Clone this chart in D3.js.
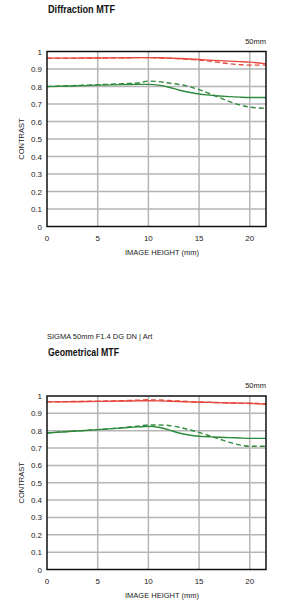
<!DOCTYPE html>
<html>
<head>
<meta charset="utf-8">
<script src="https://cdn.jsdelivr.net/npm/d3@7"></script>
<style>
  body { margin: 0; background: #fff; }
  text { font-family: "Liberation Sans", Arial, sans-serif; fill: #222; }
  .title { font-family: "Liberation Sans", Arial, sans-serif; fill: #111; }
</style>
</head>
<body>
<div id="plot"></div>
<script>
// image height positions (mm)
const heights = [0, 2.5, 5, 7.5, 9, 10, 11, 12, 13, 14, 15, 16, 17, 18, 19, 20, 21.6];

// diffraction MTF
const diffRedSolid   = [0.962, 0.962, 0.963, 0.964, 0.965, 0.965, 0.964, 0.962, 0.960, 0.957, 0.954, 0.951, 0.948, 0.945, 0.942, 0.939, 0.929];
const diffRedDashed  = [0.962, 0.962, 0.963, 0.964, 0.965, 0.965, 0.964, 0.962, 0.959, 0.955, 0.951, 0.945, 0.937, 0.930, 0.925, 0.922, 0.922];
const diffGreenSolid = [0.799, 0.803, 0.808, 0.811, 0.812, 0.812, 0.808, 0.796, 0.780, 0.767, 0.757, 0.751, 0.746, 0.742, 0.739, 0.737, 0.737];
const diffGreenDash  = [0.800, 0.805, 0.810, 0.816, 0.820, 0.831, 0.828, 0.820, 0.812, 0.800, 0.782, 0.760, 0.737, 0.714, 0.695, 0.682, 0.675];

// geometrical MTF
const geoRedSolid    = [0.966, 0.967, 0.969, 0.971, 0.972, 0.973, 0.972, 0.970, 0.968, 0.966, 0.964, 0.963, 0.962, 0.960, 0.959, 0.958, 0.952];
const geoRedDashed   = [0.966, 0.968, 0.970, 0.973, 0.976, 0.978, 0.977, 0.974, 0.971, 0.968, 0.966, 0.964, 0.962, 0.960, 0.958, 0.957, 0.956];
const geoGreenSolid  = [0.787, 0.797, 0.806, 0.816, 0.822, 0.825, 0.820, 0.805, 0.787, 0.775, 0.768, 0.765, 0.762, 0.760, 0.758, 0.756, 0.756];
const geoGreenDash   = [0.787, 0.797, 0.806, 0.818, 0.826, 0.833, 0.833, 0.830, 0.820, 0.806, 0.790, 0.771, 0.752, 0.733, 0.718, 0.710, 0.710];

const xTicks = [0, 5, 10, 15, 20];
const yTicks = [0, 0.1, 0.2, 0.3, 0.4, 0.5, 0.6, 0.7, 0.8, 0.9, 1];

const RED = "#e5483d";
const GREEN = "#2f8a3c";

const svg = d3.select("#plot")
    .append("svg")
    .attr("width", 286)
    .attr("height", 600);

function drawChart(top, bottom, series) {
  const left = 47, right = 266;

  const x = d3.scaleLinear().domain([0, 21.6]).range([left, right]);
  const y = d3.scaleLinear().domain([0, 1]).range([bottom, top]);

  const g = svg.append("g");

  // grid
  g.selectAll(".hgrid")
      .data(yTicks.slice(1, -1))
      .enter()
      .append("line")
      .attr("x1", left).attr("x2", right)
      .attr("y1", d => y(d)).attr("y2", d => y(d))
      .style("stroke", "#b5b5b5").style("stroke-width", 1.5);
  g.selectAll(".vgrid")
      .data(xTicks.slice(1))
      .enter()
      .append("line")
      .attr("y1", top).attr("y2", bottom)
      .attr("x1", d => x(d)).attr("x2", d => x(d))
      .style("stroke", "#b5b5b5").style("stroke-width", 1.5);

  // tick labels
  g.selectAll(".ylab")
      .data(yTicks)
      .enter()
      .append("text")
      .attr("x", left - 5)
      .attr("y", d => y(d) + 3)
      .attr("text-anchor", "end")
      .style("font-size", "8px")
      .text(d => +d.toFixed(1));
  g.selectAll(".xlab")
      .data(xTicks)
      .enter()
      .append("text")
      .attr("x", d => x(d))
      .attr("y", bottom + 14)
      .attr("text-anchor", "middle")
      .style("font-size", "8px")
      .text(d => d);

  g.append("text")
      .attr("x", 162)
      .attr("y", bottom + 28)
      .attr("text-anchor", "middle")
      .style("font-size", "7.5px")
      .text("IMAGE HEIGHT (mm)");
  g.append("text")
      .attr("transform", "translate(24," + ((top + bottom) / 2) + ") rotate(-90)")
      .attr("text-anchor", "middle")
      .style("font-size", "7.5px")
      .text("CONTRAST");
  g.append("text")
      .attr("x", right)
      .attr("y", top - 8)
      .attr("text-anchor", "end")
      .style("font-size", "7.5px")
      .text("50mm");

  // curves
  const line = d3.line()
      .x((d, i) => x(heights[i]))
      .y(d => y(d))
      .curve(d3.curveMonotoneX);

  series.forEach(s => {
    g.append("path")
        .datum(s.values)
        .attr("d", line)
        .style("fill", "none")
        .style("stroke", s.color)
        .style("stroke-width", 1.4)
        .style("stroke-dasharray", s.dashed ? "5,3" : null);
  });

  // frame
  g.append("rect")
      .attr("x", left).attr("y", top)
      .attr("width", right - left).attr("height", bottom - top)
      .style("fill", "none")
      .style("stroke", "#111")
      .style("stroke-width", 1.5);
}

svg.append("text")
    .attr("class", "title")
    .attr("x", 48).attr("y", 13)
    .attr("textLength", 67)
    .attr("lengthAdjust", "spacingAndGlyphs")
    .style("font-size", "11px")
    .style("font-weight", 600)
    .text("Diffraction MTF");

drawChart(51.5, 226.5, [
  {values: diffRedSolid, color: RED},
  {values: diffRedDashed, color: RED, dashed: true},
  {values: diffGreenSolid, color: GREEN},
  {values: diffGreenDash, color: GREEN, dashed: true}
]);

svg.append("text")
    .attr("x", 47).attr("y", 339)
    .style("font-size", "7.5px")
    .text("SIGMA 50mm F1.4 DG DN | Art");
svg.append("text")
    .attr("class", "title")
    .attr("x", 48).attr("y", 356)
    .attr("textLength", 71)
    .attr("lengthAdjust", "spacingAndGlyphs")
    .style("font-size", "11px")
    .style("font-weight", 600)
    .text("Geometrical MTF");

drawChart(396, 569.5, [
  {values: geoRedSolid, color: RED},
  {values: geoRedDashed, color: RED, dashed: true},
  {values: geoGreenSolid, color: GREEN},
  {values: geoGreenDash, color: GREEN, dashed: true}
]);
</script>
</body>
</html>
